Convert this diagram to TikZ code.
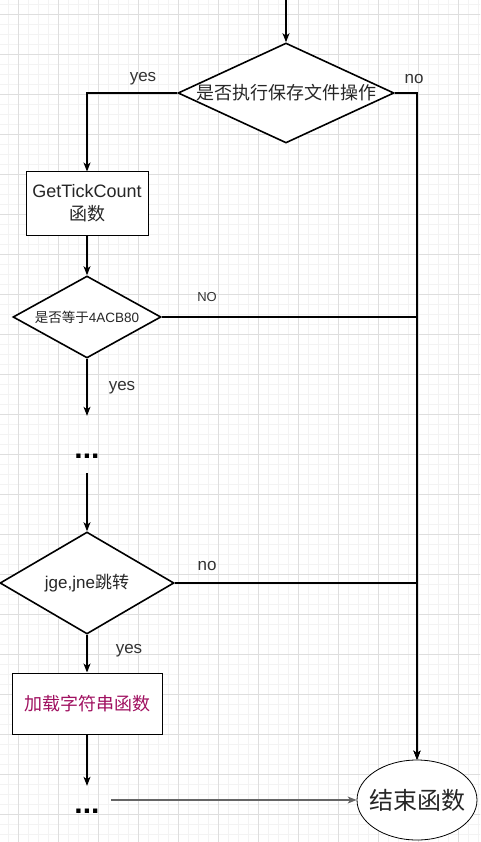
\documentclass[tikz,border=0pt]{standalone}
\usepackage{fontspec}
\setmainfont{Liberation Sans}
\newfontfamily\cjk{Noto Sans CJK SC}
\usetikzlibrary{shapes.geometric,arrows.meta}

\definecolor{loadtext}{RGB}{160,16,96}
\definecolor{gridminor}{RGB}{243,243,243}
\definecolor{gridmajor}{RGB}{222,222,222}
\newcommand{\nowidth}[1]{\makebox[0pt]{#1}}

\begin{document}
\begin{tikzpicture}[x=1pt, y=-1pt,
    decision/.style={diamond, draw, line width=1.6pt, inner sep=0pt, fill=white, text=black!85},
    process/.style={rectangle, draw, line width=1pt, inner sep=0pt, fill=white, text=black!85, align=center},
    flow/.style={line width=1.1pt, -{Stealth[length=9pt, width=7pt, inset=2.5pt]}},
    answer/.style={draw=none, fill=none, text=black!80, font=\fontsize{17}{20}\selectfont},
    ellipsis/.style={inner sep=0pt, minimum width=48pt, font=\bfseries\fontsize{30}{30}\selectfont}]

      \useasboundingbox (0,0) rectangle (480,842);
      \clip (0,0) rectangle (480,842);
      \fill[white] (0,0) rectangle (480,842);

      % grid paper
      \draw[gridminor, line width=0.8pt, step=10pt, shift={(8pt,-4pt)}] (-20,-20) grid (500,860);
      \draw[gridmajor, line width=0.8pt, step=40pt, shift={(18pt,-14pt)}] (-40,-40) grid (520,880);

      % decisions
      \node[decision, minimum width=216pt, minimum height=100pt, font={\cjk\fontsize{18}{18}\selectfont}] (save) at (286,93) {\nowidth{是否执行保存文件操作}};
      \node[decision, minimum width=148pt, minimum height=82pt, font={\fontsize{13.5}{14}\selectfont}] (eq) at (87,317) {\nowidth{{\cjk 是否等于}4ACB80}};
      \node[decision, minimum width=174pt, minimum height=102pt, font={\fontsize{17}{18}\selectfont}] (jump) at (87,583) {\nowidth{jge,jne{\cjk 跳转}}};

      % steps
      \node[process, minimum width=122pt, minimum height=63pt, font={\fontsize{18}{23}\selectfont}] (tick) at (87,203.5) {GetTickCount\\{\cjk 函数}};
      \node[process, minimum width=150pt, minimum height=61pt, text=loadtext, font={\cjk\fontsize{18}{18}\selectfont}] (load) at (87,703.5) {加载字符串函数};
      \node[ellipse, draw, line width=0.8pt, fill=white, minimum width=120pt, minimum height=80pt, inner sep=0pt, text=black!85, font={\cjk\fontsize{24}{24}\selectfont}] (end) at (417,800) {\nowidth{结束函数}};

      % omitted steps
      \node[ellipsis, text height=42pt, text depth=15pt] (dotsA) at (87,444.5) {...};
      \node[ellipsis, text height=27pt, text depth=1pt] (dotsB) at (87,800) {...};

      % connectors
      \coordinate (entry) at (286,0);
      \draw[flow] (entry) -- (save.north);
      \draw[flow] (save.west) -| (tick.north);
      \draw[flow] (tick.south) -- (eq.north);
      \draw[flow] (eq.south) -- (dotsA.north);
      \draw[flow] (dotsA.south) -- (jump.north);
      \draw[flow] (jump.south) -- (load.north);
      \draw[flow] (load.south) -- (dotsB.north);
      \draw[flow, black!60] (dotsB.east) -- (end.west);
      \draw[flow] (save.east) -| (end.north);
      \draw[flow] (eq.east) -| (end.north);
      \draw[flow] (jump.east) -| (end.north);

      % branch labels
      \node[answer] (yesA) at (143,79) {yes};
      \node[answer] (noA) at (414,79) {no};
      \node[answer, font={\fontsize{13}{13}\selectfont}] (noB) at (207,297) {NO};
      \node[answer] (yesB) at (122,388) {yes};
      \node[answer] (noC) at (207,566) {no};
      \node[answer] (yesC) at (129,651) {yes};
    \end{tikzpicture}
\end{document}
